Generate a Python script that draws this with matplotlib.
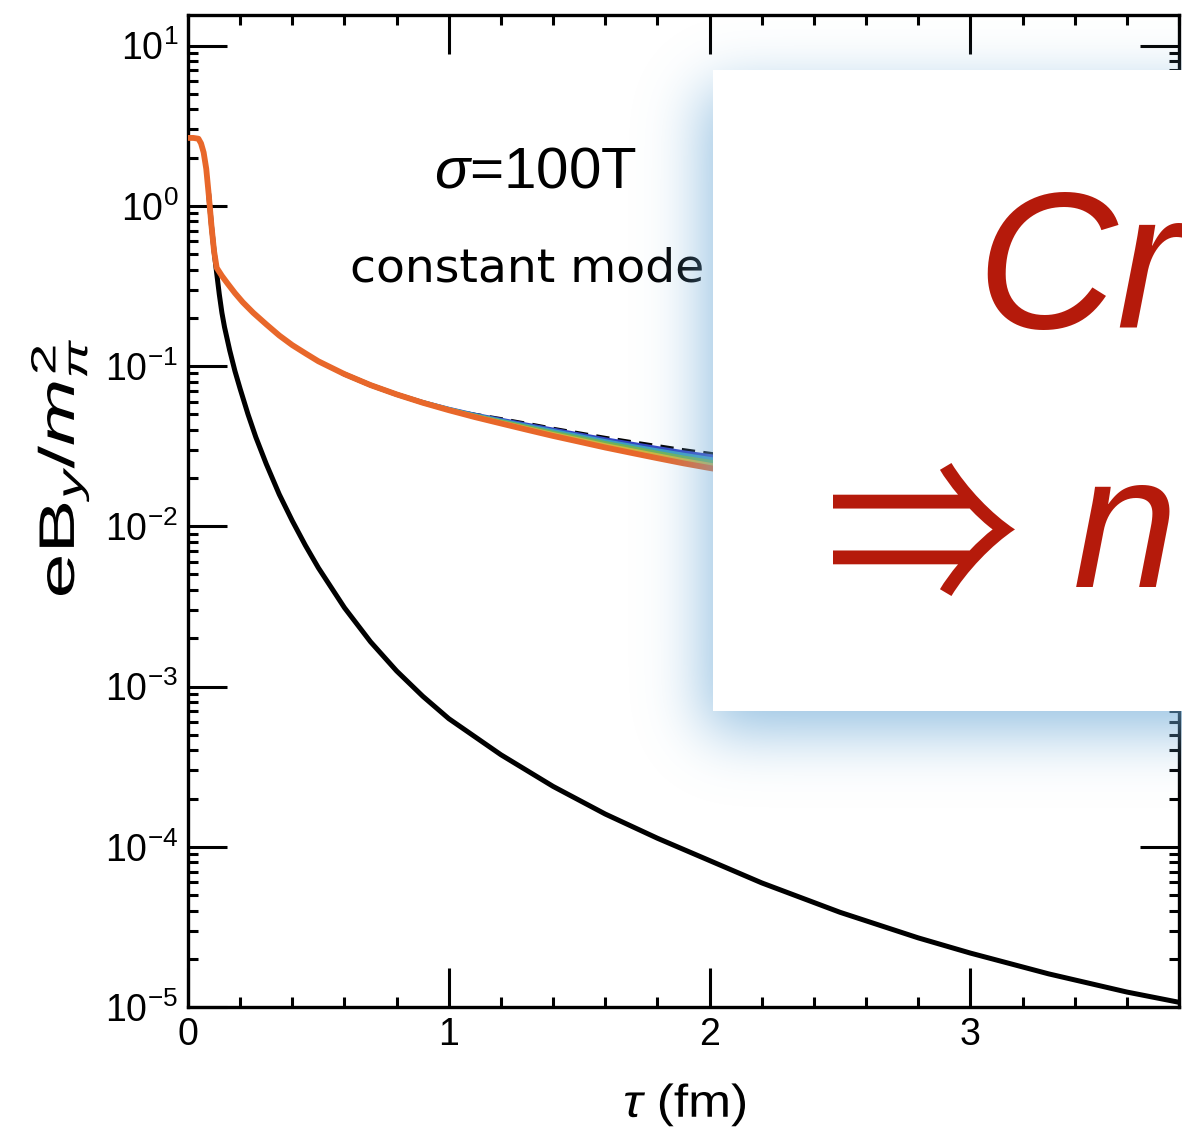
import math
import numpy as np
import matplotlib
matplotlib.use("Agg")
import matplotlib.pyplot as plt
from matplotlib.patches import Rectangle, PathPatch
from matplotlib.textpath import TextPath
from matplotlib.font_manager import FontProperties
from matplotlib.transforms import Affine2D, IdentityTransform
from matplotlib.ticker import (LogLocator, MultipleLocator, NullFormatter,
                               FixedLocator)

# ---- data ----
# sigma = 100T, constant mode (orange, drawn on top of the fan)
tau_orange = [0.0, 0.02, 0.04, 0.05, 0.06, 0.07, 0.08, 0.09, 0.10, 0.11,
              0.13, 0.15, 0.18, 0.21, 0.25, 0.30, 0.35, 0.40, 0.45, 0.50,
              0.60, 0.70, 0.80, 0.90, 1.0, 1.1, 1.2, 1.3, 1.4, 1.5, 1.6,
              1.7, 1.8, 1.9, 2.0, 2.1, 2.2]
b_orange = [2.65, 2.65, 2.62, 2.45, 2.15, 1.7, 1.15, 0.75, 0.52, 0.41,
            0.365, 0.33, 0.285, 0.25, 0.215, 0.182, 0.155, 0.135, 0.120, 0.107,
            0.089, 0.076, 0.0665, 0.0590, 0.053, 0.048, 0.0438, 0.0400, 0.0366,
            0.0337, 0.0310, 0.0287, 0.0266, 0.0247, 0.0231, 0.0217, 0.0204]

# the rest of the fan only separates from the orange curve after ~1 fm
tau_fan = [0.6, 0.7, 0.8, 0.9, 1.0, 1.1, 1.2, 1.3, 1.4, 1.5, 1.6, 1.7, 1.8,
           1.9, 2.0, 2.1, 2.2]
b_dashed = [0.0885, 0.0755, 0.0662, 0.0587, 0.0535, 0.0499, 0.0469, 0.0438,
            0.0408, 0.0382, 0.0358, 0.0337, 0.0318, 0.0300, 0.0285, 0.0271,
            0.0258]
b_blue = [0.089, 0.076, 0.0665, 0.0593, 0.0538, 0.0494, 0.0460, 0.0428, 0.0399,
          0.0372, 0.0347, 0.0326, 0.0306, 0.0288, 0.0273, 0.0258, 0.0245]
b_teal = [0.089, 0.076, 0.0665, 0.0592, 0.0536, 0.0491, 0.0454, 0.0421, 0.0391,
          0.0364, 0.0338, 0.0316, 0.0296, 0.0278, 0.0262, 0.0248, 0.0235]
b_green = [0.089, 0.076, 0.0665, 0.0591, 0.0534, 0.0487, 0.0449, 0.0414,
           0.0382, 0.0355, 0.0329, 0.0307, 0.0286, 0.0267, 0.0252, 0.0238,
           0.0224]
b_yellow = [0.089, 0.076, 0.0665, 0.0590, 0.0532, 0.0484, 0.0443, 0.0407,
            0.0374, 0.0346, 0.0319, 0.0297, 0.0276, 0.0257, 0.0241, 0.0227,
            0.0214]

# vacuum field (black solid)
tau_vac = [0.08, 0.09, 0.10, 0.11, 0.12, 0.13, 0.14, 0.16, 0.18, 0.20, 0.23,
           0.26, 0.30, 0.35, 0.40, 0.45, 0.50, 0.60, 0.70, 0.80, 0.90, 1.0,
           1.2, 1.4, 1.6, 1.8, 2.0, 2.2, 2.5, 2.8, 3.0, 3.3, 3.6, 3.8]
b_vac = [1.15, 0.75, 0.52, 0.38, 0.28, 0.215, 0.175, 0.125, 0.093, 0.072,
         0.050, 0.036, 0.0245, 0.0158, 0.0108, 0.0076, 0.0055, 0.0031, 0.0019,
         0.00125, 8.7e-4, 6.3e-4, 3.75e-4, 2.38e-4, 1.6e-4, 1.13e-4, 8.2e-5,
         5.95e-5, 3.9e-5, 2.7e-5, 2.17e-5, 1.61e-5, 1.24e-5, 1.07e-5]

y_decades = [1e-5, 1e-4, 1e-3, 1e-2, 1e-1, 1e0, 1e1]

fan = [(b_dashed, 'k'), (b_blue, '#3346c4'), (b_teal, '#3d9ec0'),
       (b_green, '#6db35a'), (b_yellow, '#cdb640')]

plt.rcParams['mathtext.fontset'] = 'custom'
plt.rcParams['mathtext.rm'] = 'Liberation Sans'
plt.rcParams['mathtext.it'] = 'Liberation Sans:italic'
plt.rcParams['mathtext.bf'] = 'Liberation Sans:bold'
plt.rcParams['font.family'] = ['Liberation Sans', 'DejaVu Sans']

W, H = 1182, 1132
fig = plt.figure(figsize=(W / 100., H / 100.), dpi=100)
ax = fig.add_axes([188. / W, 1 - 1007. / H, (1179. - 188.) / W, (1007. - 15.) / H])


def add_path(path, color='k', z=3):
    fig.add_artist(PathPatch(path, transform=IdentityTransform(),
                             facecolor=color, edgecolor='none', lw=0, zorder=z))


def fit_path(tp, x0, x1, y0, y1, color='k', z=3):
    """stretch a text path into the pixel box x0..x1, y0..y1 (y from top)"""
    ext = tp.get_extents()
    tr = (Affine2D().translate(-ext.x0, -ext.y0)
          .scale((x1 - x0) / ext.width, (y1 - y0) / ext.height)
          .translate(x0, H - y1))
    add_path(tr.transform_path(tp), color, z)


for vals, col in fan:
    if col == 'k':
        ax.plot(tau_fan, vals, color='k', lw=2.4, ls=(0, (4, 2.5)), zorder=2)
    else:
        ax.plot(tau_fan, vals, color=col, lw=3.4, zorder=2)
ax.plot(tau_vac, b_vac, color='k', lw=3.6, zorder=3)
ax.plot(tau_orange, b_orange, color='#e8672a', lw=4.2, zorder=4)

ax.set_yscale('log')
ax.set_xlim(0, 3.8)
ax.set_ylim(1e-5, 15.5)
ax.xaxis.set_major_locator(MultipleLocator(1))
ax.xaxis.set_minor_locator(MultipleLocator(0.2))
ax.yaxis.set_major_locator(FixedLocator(y_decades))
ax.yaxis.set_minor_locator(LogLocator(base=10, subs=np.arange(2, 10), numticks=20))
ax.yaxis.set_minor_formatter(NullFormatter())
ax.tick_params(which='both', direction='in', top=True, right=True,
               width=2.2, labelsize=27, colors='k')
ax.tick_params(which='major', length=28, pad=7)
ax.tick_params(which='minor', length=7)
for s in ax.spines.values():
    s.set_linewidth(2.4)

# axis labels, sized to the span they take in the original
lab = FontProperties(family='Liberation Sans')
yl = TextPath((0, 0), r'eB$_y$/$m_\pi^2$', size=50, prop=lab)
e = yl.get_extents()
add_path((Affine2D().translate(-e.x0, 0).scale(255. / e.width, 1.0)
          .rotate_deg(90).translate(74, H - 595)).transform_path(yl))
xl = TextPath((0, 0), r'$\tau$ (fm)', size=46, prop=lab)
e = xl.get_extents()
add_path((Affine2D().translate(-e.x0, 0).scale(120. / e.width, 1.0)
          .translate(625, H - 1117)).transform_path(xl))

fig.text(535. / W, 1 - 188. / H, r'$\sigma$=100T', fontsize=42,
         ha='center', va='baseline')
fig.text(527. / W, 1 - 281. / H, 'constant mode', fontsize=34,
         family='DejaVu Sans', ha='center', va='baseline')

# ---- white box with a soft blue drop shadow ----
bx0, bx1, by0, by1 = 713, 1260, 70, 711      # pixel coords, y from top
erf = np.frompyfunc(math.erf, 1, 1)
sig = 30.0
sx0, sx1, sy0, sy1 = bx0 - 8, bx1, by0 + 20, by1 + 20
xs = np.arange(W) + 0.5
ys = np.arange(H) + 0.5
fx = 0.5 * (erf((xs - sx0) / (sig * math.sqrt(2))).astype(float)
            - erf((xs - sx1) / (sig * math.sqrt(2))).astype(float))
fy = 0.5 * (erf((ys - sy0) / (sig * math.sqrt(2))).astype(float)
            - erf((ys - sy1) / (sig * math.sqrt(2))).astype(float))
alpha = 0.74 * np.outer(fy, fx)
shadow = np.zeros((H, W, 4))
shadow[..., 0] = 110 / 255.
shadow[..., 1] = 170 / 255.
shadow[..., 2] = 215 / 255.
shadow[..., 3] = alpha
fig.figimage(shadow, xo=0, yo=0, origin='upper', zorder=5)

fig.patches.append(Rectangle((bx0 / W, 1 - by1 / H), (bx1 - bx0) / W,
                             (by1 - by0) / H, transform=fig.transFigure,
                             facecolor='white', edgecolor='none', zorder=6))

red = '#b51a0b'
fig.text(976. / W, 1 - 328. / H, 'Cr', fontsize=140, style='italic',
         color=red, ha='left', va='baseline', zorder=7)
fit_path(TextPath((0, 0), '\u21d2', size=150,
                  prop=FontProperties(family='Noto Sans CJK JP')),
         833, 1015, 463, 596, color=red, z=7)
fig.text(1073. / W, 1 - 587. / H, 'n', fontsize=136, style='italic',
         color=red, ha='left', va='baseline', zorder=7)

fig.savefig('out.png', dpi=100)
